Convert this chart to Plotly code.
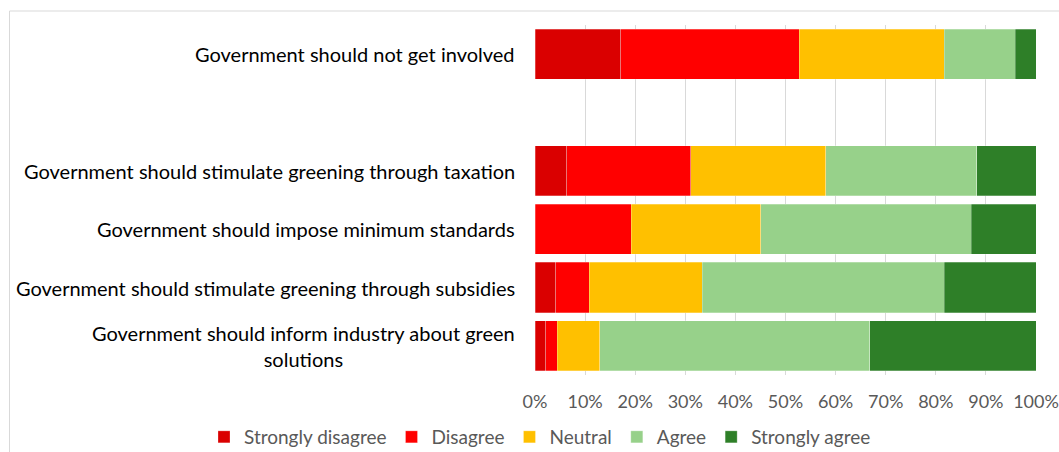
import plotly.graph_objects as go

categories = [
    "Government should not get involved",
    "Government should stimulate greening through taxation",
    "Government should impose minimum standards",
    "Government should stimulate greening through subsidies",
    "Government should inform industry about green<br>solutions",
]
spacer = " "
axis_order = [categories[0], spacer] + categories[1:]

series_names = ["Strongly disagree", "Disagree", "Neutral", "Agree", "Strongly agree"]
strongly_disagree = [17.1, 6.3, 0.0, 4.1, 2.1]
disagree = [35.6, 24.8, 19.2, 6.7, 2.3]
neutral = [29.0, 26.9, 25.9, 22.6, 8.5]
agree = [14.2, 30.2, 42.0, 48.3, 53.9]
strongly_agree = [4.1, 11.8, 12.9, 18.3, 33.2]
series_values = [strongly_disagree, disagree, neutral, agree, strongly_agree]
colors = ["#DA0000", "#FF0000", "#FFC000", "#97D18A", "#2E7F28"]

tick_vals = [0, 10, 20, 30, 40, 50, 60, 70, 80, 90, 100]
tick_text = ["0%", "10%", "20%", "30%", "40%", "50%", "60%", "70%", "80%", "90%", "100%"]

FONT = "Lato"
W, H = 1059, 452
ML, MR, MT, MB = 535, 23, 25, 77
PW = W - ML - MR
PH = H - MT - MB

fig = go.Figure()
for name, vals, col in zip(series_names, series_values, colors):
    fig.add_trace(go.Bar(
        y=categories, x=vals, name=name, orientation="h",
        marker=dict(color=col, line=dict(color="rgba(255,255,255,0.35)", width=0.75)),
    ))

# category labels as centered multi-line text right-aligned to the axis
annotations = []
for cat in categories:
    annotations.append(dict(
        text=cat, xref="paper", yref="y", x=-(18.0 / PW), y=cat,
        xanchor="right", yanchor="middle", align="center", showarrow=False,
        font=dict(family=FONT, size=20, color="#000000"),
    ))

fig.update_layout(
    barmode="stack",
    bargap=0.14,
    width=W, height=H,
    margin=dict(l=ML, r=MR, t=MT, b=MB, autoexpand=False),
    paper_bgcolor="white", plot_bgcolor="white",
    font=dict(family=FONT, size=16, color="#000000"),
    showlegend=True,
    legend=dict(orientation="h", xref="paper", yref="paper",
                x=(204 - ML) / PW, xanchor="left", y=-(418 - (H - MB)) / PH, yanchor="top",
                font=dict(family=FONT, size=19, color="#595959"),
                traceorder="normal", itemclick=False),
    xaxis=dict(range=[0, 100], tickvals=tick_vals, ticktext=tick_text,
               showgrid=True, gridcolor="#D9D9D9", gridwidth=1,
               zeroline=False, showline=False,
               tickfont=dict(family=FONT, size=18, color="#595959"),
               ticks="outside", ticklen=10, tickcolor="rgba(0,0,0,0)"),
    yaxis=dict(categoryorder="array", categoryarray=axis_order, autorange="reversed",
               showticklabels=False, ticks="",
               showgrid=False, zeroline=False, showline=False),
    annotations=annotations,
    shapes=[dict(type="rect", xref="paper", yref="paper",
                 x0=-(ML - 9.5) / PW, x1=1.07, y0=-0.3, y1=(H - MB - 11) / PH,
                 line=dict(color="#D9D9D9", width=1), fillcolor="rgba(0,0,0,0)",
                 layer="below")],
)

fig.write_html("out.html")
